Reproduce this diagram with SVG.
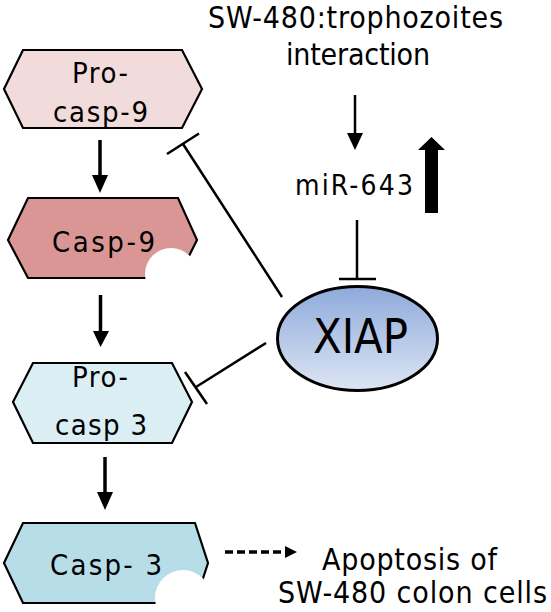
<svg xmlns="http://www.w3.org/2000/svg" width="551" height="612" viewBox="0 0 551 612">
<style>
.hex{stroke:#000;stroke-width:2.2}
.t{font-family:"DejaVu Sans Condensed","DejaVu Sans",sans-serif;font-stretch:condensed;fill:#000}
.ln{stroke:#000;stroke-width:2.5;fill:none}
.ar{stroke:#000;stroke-width:3.5;fill:none}
</style>
<defs>
<linearGradient id="g" x1="0" y1="0" x2="0" y2="1">
<stop offset="0" stop-color="#8eaadb"/>
<stop offset="1" stop-color="#dde6f3"/>
</linearGradient>
</defs>
<g id="connectors">
<line class="ar" x1="100" y1="140" x2="100" y2="178"/>
<polygon points="92,175 108,175 100,193"/>
<line class="ar" x1="100.5" y1="295" x2="100.5" y2="334"/>
<polygon points="93,331 109,331 100.5,347"/>
<line class="ar" x1="105" y1="457" x2="105" y2="495"/>
<polygon points="97,492 113,492 105,510"/>
<line class="ln" x1="355" y1="95" x2="355" y2="136"/>
<polygon points="347,133 363,133 355,150"/>
<polygon points="425,213 438,213 438,150 445,150 431.5,137 418,150 425,150"/>
<line class="ln" x1="357" y1="220" x2="357" y2="279"/>
<line class="ln" x1="339" y1="279" x2="376" y2="279"/>
<line class="ln" x1="282" y1="297" x2="183" y2="144"/>
<line class="ln" x1="167" y1="154" x2="199" y2="133.5"/>
<line class="ln" x1="266" y1="343" x2="196" y2="387"/>
<line class="ln" x1="185" y1="372" x2="207" y2="404"/>
<line class="ar" x1="225" y1="552" x2="287" y2="552" stroke-dasharray="8,4"/>
<polygon points="285,546 297,552 285,558"/>
</g>
<g id="pro-casp-9">
<polygon class="hex" fill="#f2dcdb" points="4,89 23,50 182,50 202,89 182,128 23,128"/>
<text class="t" font-size="29" x="72" y="83" textLength="56" lengthAdjust="spacing">Pro-</text>
<text class="t" font-size="29" x="53" y="122" textLength="95" lengthAdjust="spacing">casp-9</text>
</g>
<g id="casp-9">
<polygon class="hex" fill="#d99694" points="8,240 28,198 178,198 197,240 178,278 28,278"/>
<text class="t" font-size="29" x="52" y="252" textLength="103" lengthAdjust="spacing">Casp-9</text>
<circle cx="171" cy="274" r="26" fill="#fff"/>
</g>
<g id="pro-casp-3">
<polygon class="hex" fill="#dbeef4" points="13,402 33,363 172,363 192,402 172,443 33,443"/>
<text class="t" font-size="29" x="72" y="387" textLength="56" lengthAdjust="spacing">Pro-</text>
<text class="t" font-size="29" x="55" y="435" textLength="92" lengthAdjust="spacing">casp 3</text>
</g>
<g id="casp-3">
<polygon class="hex" fill="#b7dde8" points="4,563 23,523 195,523 208,563 195,603 23,603"/>
<text class="t" font-size="29" x="50" y="575" textLength="112" lengthAdjust="spacing">Casp- 3</text>
<circle cx="183" cy="598" r="28" fill="#fff"/>
</g>
<g id="sw480-interaction">
<text class="t" font-size="30" x="208" y="28" textLength="295" lengthAdjust="spacing">SW-480:trophozoites</text>
<text class="t" font-size="30" x="286" y="65" textLength="144" lengthAdjust="spacing">interaction</text>
</g>
<g id="mir-643">
<text class="t" font-size="28" x="295" y="195" textLength="118" lengthAdjust="spacing">miR-643</text>
</g>
<g id="xiap">
<ellipse cx="357.5" cy="338.5" rx="80" ry="52" fill="url(#g)" stroke="#000" stroke-width="3"/>
<text class="t" font-size="48" x="313" y="353" textLength="95" lengthAdjust="spacingAndGlyphs">XIAP</text>
</g>
<g id="apoptosis">
<text class="t" font-size="30" x="322" y="570" textLength="175" lengthAdjust="spacing">Apoptosis of</text>
<text class="t" font-size="30" x="278" y="603" textLength="269" lengthAdjust="spacing">SW-480 colon cells</text>
</g>
</svg>
